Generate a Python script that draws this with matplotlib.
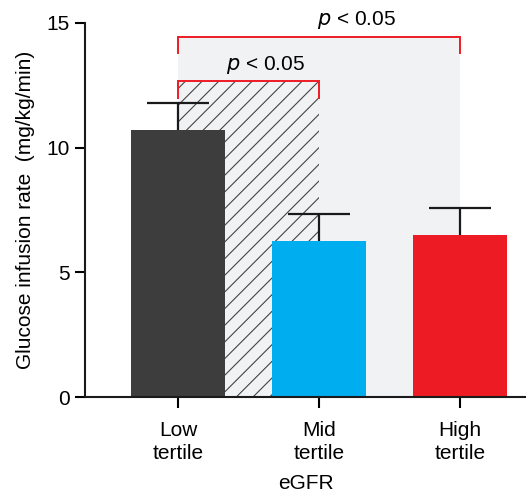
import matplotlib
matplotlib.use("Agg")
from matplotlib import pyplot as plt
from matplotlib.patches import Rectangle

plt.rcParams['font.family'] = ['Liberation Sans', 'DejaVu Sans']

# values
groups = ["Low\ntertile", "Mid\ntertile", "High\ntertile"]
means = [10.7, 6.25, 6.5]
errors = [1.07, 1.07, 1.08]
colors = ["#3d3d3d", "#00aeef", "#ed1c24"]

# significance comparisons: (from, to, height, label)
comparisons = [(0, 2, 14.45, "p < 0.05"), (0, 1, 12.65, "p < 0.05")]

fig = plt.figure(figsize=(5.26, 4.97), dpi=100)
ax = fig.add_axes([0.1616, 0.201, 0.8384, 0.753])

x = list(range(len(groups)))

# shaded background of the wide comparison
c0, c1, h0, lab0 = comparisons[0]
ax.add_patch(Rectangle((c0, 0), c1 - c0, h0, facecolor="#f1f2f4",
                       edgecolor="none", zorder=0))
# hatched background of the narrow comparison
c0, c1, h1, lab1 = comparisons[1]
plt.rcParams['hatch.color'] = "#444444"
plt.rcParams['hatch.linewidth'] = 0.8
ax.add_patch(Rectangle((c0, 0), c1 - c0, h1, facecolor="#f1f2f4",
                       edgecolor="#444444", linewidth=0, hatch="//", zorder=0.5))

# brackets
for a, b, h, lab in comparisons:
    drop = 0.65
    ax.plot([a, a, b, b], [h - drop, h, h, h - drop], color="#ed1c24",
            linewidth=1.4, zorder=1, solid_joinstyle="miter")

ax.text(1.27, 15.1, "$p$ < 0.05", ha="center", va="center", fontsize=15)
ax.text(0.62, 13.3, "$p$ < 0.05", ha="center", va="center", fontsize=15)

# upper-only error bars
tops = [m + e for m, e in zip(means, errors)]
ax.vlines(x, means, tops, color="#1a1a1a", linewidth=1.6, zorder=1.5)
ax.hlines(tops, [i - 0.22 for i in x], [i + 0.22 for i in x],
          color="#1a1a1a", linewidth=1.6, zorder=1.5)
ax.bar(x, means, width=0.67, color=colors, edgecolor="none", zorder=2)

ax.set_xlim(-0.66, 2.47)
ax.set_ylim(0, 15)
ax.set_yticks([0, 5, 10, 15])
ax.set_xticks(x)
ax.set_xticklabels(groups, fontsize=15, linespacing=1.3)
ax.tick_params(axis="y", labelsize=15, length=7, width=1.5, pad=4)
ax.tick_params(axis="x", length=8, width=1.5, pad=9)
for s in ["top", "right"]:
    ax.spines[s].set_visible(False)
for s in ["left", "bottom"]:
    ax.spines[s].set_linewidth(1.5)
    ax.spines[s].set_color("#1a1a1a")
    ax.spines[s].set_zorder(3)

ax.set_ylabel("Glucose infusion rate  (mg/kg/min)", fontsize=15, labelpad=8)
ax.set_xlabel("eGFR", fontsize=15, labelpad=8)

fig.savefig("out.png", dpi=100)
